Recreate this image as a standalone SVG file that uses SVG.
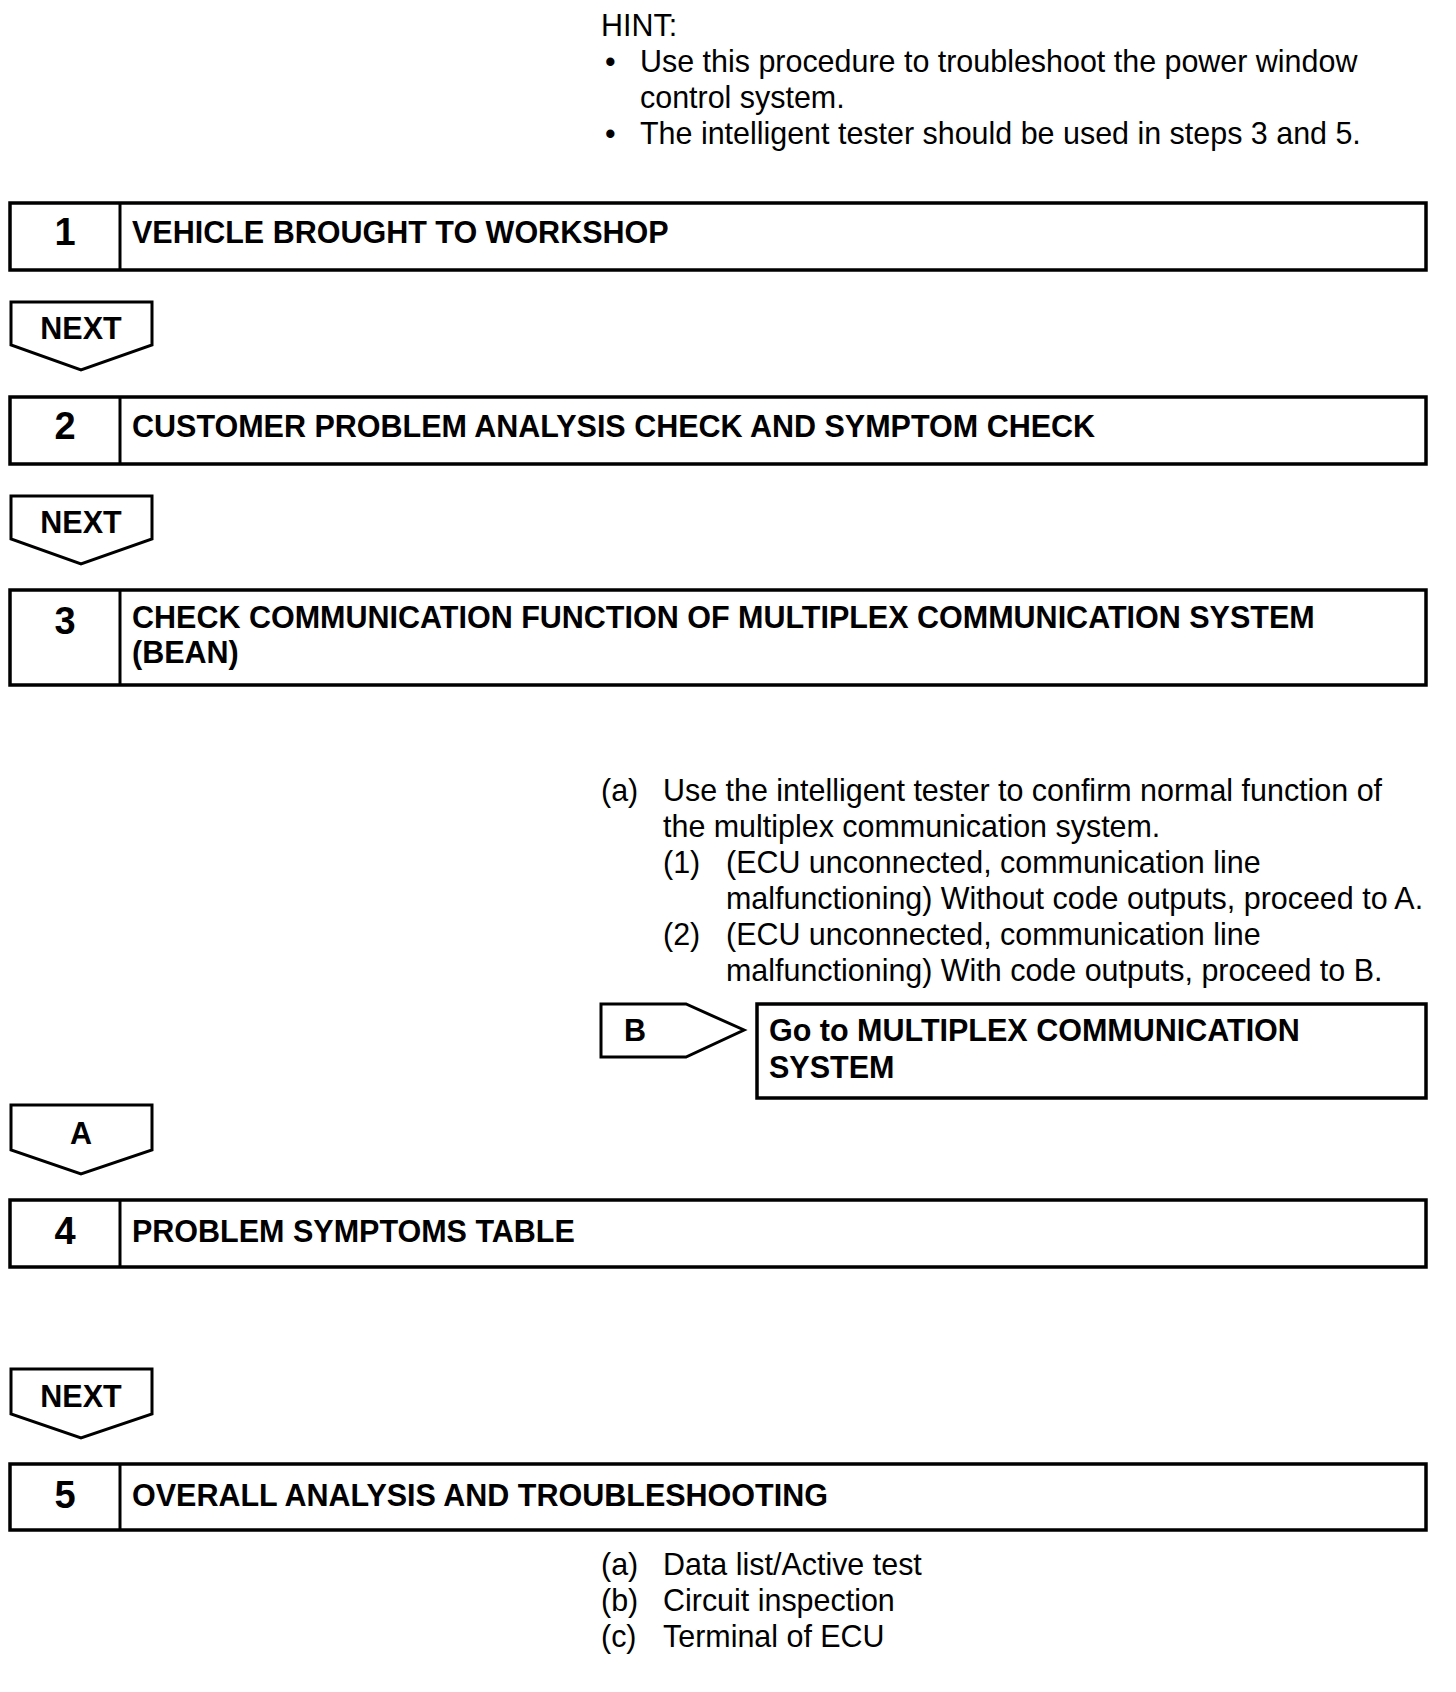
<svg xmlns="http://www.w3.org/2000/svg" width="1456" height="1692" viewBox="0 0 1456 1692">
<style>
  text { font-family: "Liberation Sans", Arial, sans-serif; fill: #000; }
  .t { font-size: 30.45px; }
  .b { font-size: 30.5px; font-weight: bold; }
  .n { font-size: 38px; font-weight: bold; text-anchor: middle; }
  .c { text-anchor: middle; }
  .box { fill: #fff; stroke: #000; stroke-width: 3.5; }
  .div { stroke: #000; stroke-width: 3; }
  .arr { fill: #fff; stroke: #000; stroke-width: 3; stroke-linejoin: miter; }
</style>
<rect width="1456" height="1692" fill="#fff"/>

<g id="hint">
  <text class="t" x="601" y="36">HINT:</text>
  <text class="t" x="605" y="72">•</text>
  <text class="t" x="640" y="72">Use this procedure to troubleshoot the power window</text>
  <text class="t" x="640" y="108">control system.</text>
  <text class="t" x="605" y="144">•</text>
  <text class="t" x="640" y="144">The intelligent tester should be used in steps 3 and 5.</text>
</g>

<g id="step1">
  <rect class="box" x="10" y="203" width="1416" height="67"/>
  <line class="div" x1="120" y1="203" x2="120" y2="270"/>
  <text class="n" x="65" y="245">1</text>
  <text class="b" x="132" y="243">VEHICLE BROUGHT TO WORKSHOP</text>
</g>

<g id="step2">
  <rect class="box" x="10" y="397" width="1416" height="67"/>
  <line class="div" x1="120" y1="397" x2="120" y2="464"/>
  <text class="n" x="65" y="439">2</text>
  <text class="b" x="132" y="437">CUSTOMER PROBLEM ANALYSIS CHECK AND SYMPTOM CHECK</text>
</g>

<g id="step3">
  <rect class="box" x="10" y="590" width="1416" height="95"/>
  <line class="div" x1="120" y1="590" x2="120" y2="685"/>
  <text class="n" x="65" y="634">3</text>
  <text class="b" x="132" y="628">CHECK COMMUNICATION FUNCTION OF MULTIPLEX COMMUNICATION SYSTEM</text>
  <text class="b" x="132" y="663">(BEAN)</text>
</g>

<g id="step3-notes">
  <text class="t" x="601" y="801">(a)</text>
  <text class="t" x="663" y="801">Use the intelligent tester to confirm normal function of</text>
  <text class="t" x="663" y="837">the multiplex communication system.</text>
  <text class="t" x="663" y="873">(1)</text>
  <text class="t" x="726" y="873">(ECU unconnected, communication line</text>
  <text class="t" x="726" y="909">malfunctioning) Without code outputs, proceed to A.</text>
  <text class="t" x="663" y="945">(2)</text>
  <text class="t" x="726" y="945">(ECU unconnected, communication line</text>
  <text class="t" x="726" y="981">malfunctioning) With code outputs, proceed to B.</text>
</g>

<g id="result-b">
  <rect class="box" x="757" y="1004" width="669" height="94"/>
  <text class="b" x="769" y="1041">Go to MULTIPLEX COMMUNICATION</text>
  <text class="b" x="769" y="1078">SYSTEM</text>
</g>

<g id="step4">
  <rect class="box" x="10" y="1200" width="1416" height="67"/>
  <line class="div" x1="120" y1="1200" x2="120" y2="1267"/>
  <text class="n" x="65" y="1244">4</text>
  <text class="b" x="132" y="1242">PROBLEM SYMPTOMS TABLE</text>
</g>

<g id="step5">
  <rect class="box" x="10" y="1464" width="1416" height="66"/>
  <line class="div" x1="120" y1="1464" x2="120" y2="1530"/>
  <text class="n" x="65" y="1508">5</text>
  <text class="b" x="132" y="1506">OVERALL ANALYSIS AND TROUBLESHOOTING</text>
</g>

<g id="step5-notes">
  <text class="t" x="601" y="1575">(a)</text>
  <text class="t" x="663" y="1575">Data list/Active test</text>
  <text class="t" x="601" y="1611">(b)</text>
  <text class="t" x="663" y="1611">Circuit inspection</text>
  <text class="t" x="601" y="1647">(c)</text>
  <text class="t" x="663" y="1647">Terminal of ECU</text>
</g>

<g id="connectors">
  <g id="next1">
    <polygon class="arr" points="11,302 152,302 152,345 81,370 11,345"/>
    <text class="b c" x="81" y="339">NEXT</text>
  </g>
  <g id="next2">
    <polygon class="arr" points="11,496 152,496 152,539 81,564 11,539"/>
    <text class="b c" x="81" y="533">NEXT</text>
  </g>
  <g id="branch-b">
    <polygon class="arr" points="601,1004 686,1004 744,1030 686,1057 601,1057"/>
    <text class="b" x="624" y="1041">B</text>
  </g>
  <g id="branch-a">
    <polygon class="arr" points="11,1105 152,1105 152,1150 81,1174 11,1150"/>
    <text class="b c" x="81" y="1144">A</text>
  </g>
  <g id="next3">
    <polygon class="arr" points="11,1369 152,1369 152,1414 81,1438 11,1414"/>
    <text class="b c" x="81" y="1407">NEXT</text>
  </g>
</g>
</svg>
